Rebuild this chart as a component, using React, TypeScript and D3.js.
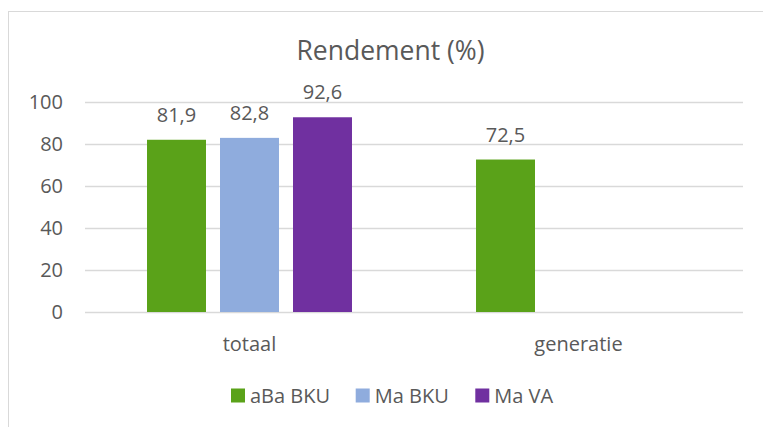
import React from "react";
import * as d3 from "d3";

const categories = ["totaal", "generatie"];
const seriesNames = ["aBa BKU", "Ma BKU", "Ma VA"];
const seriesColors = ["#5AA219", "#8FACDD", "#7030A0"];
const aBaBKU = [81.9, 72.5];
const MaBKU = [82.8, null];
const MaVA = [92.6, null];
const yTicks = [0, 20, 40, 60, 80, 100];

const seriesValues = [aBaBKU, MaBKU, MaVA];

const width = 763;
const height = 427;
const margin = { top: 101.7, right: 20, bottom: 115, left: 85 };
const font = "'Open Sans', 'Noto Sans', sans-serif";
const textColor = "#595959";

export default function App() {
  const x0 = d3
    .scaleBand<string>()
    .domain(categories)
    .range([margin.left, 743]);

  const groupW = x0.bandwidth() * 0.623;
  const x1 = d3
    .scaleBand<string>()
    .domain(seriesNames)
    .range([(x0.bandwidth() - groupW) / 2, (x0.bandwidth() + groupW) / 2])
    .paddingInner(0.192);

  const y = d3.scaleLinear().domain([0, 100]).range([312, margin.top]);

  const fmt = (v: number) => v.toFixed(1).replace(".", ",");

  // legend layout
  const legendX = [231, 355.7, 475.3];

  return (
    <svg
      width={width}
      height={height}
      style={{ position: "absolute", left: 0, top: 0, fontFamily: font }}
    >
      <rect x={0} y={0} width={width} height={height} fill="#fff" />
      <rect
        x={8.5}
        y={11.5}
        width={width + 20}
        height={height + 20}
        fill="none"
        stroke="#d9d9d9"
        strokeWidth={1}
      />
      <text
        x={390.5}
        y={60}
        textAnchor="middle"
        fontSize={26.5}
        fill={textColor}
      >
        Rendement (%)
      </text>

      {yTicks.map((t) => (
        <g key={t}>
          <line
            x1={margin.left}
            x2={743}
            y1={Math.round(y(t)) + 0.5}
            y2={Math.round(y(t)) + 0.5}
            stroke="#d9d9d9"
            strokeWidth={1.3}
          />
          <text
            x={63}
            y={y(t)}
            dy="0.35em"
            textAnchor="end"
            fontSize={20}
            fill={textColor}
          >
            {t}
          </text>
        </g>
      ))}

      {categories.map((c, ci) => (
        <g key={c} transform={`translate(${x0(c)},0)`}>
          {seriesNames.map((s, si) => {
            const v = seriesValues[si][ci];
            if (v == null) return null;
            const bx = x1(s) as number;
            return (
              <g key={s}>
                <rect
                  x={bx}
                  y={y(v)}
                  width={x1.bandwidth()}
                  height={y(0) - y(v)}
                  fill={seriesColors[si]}
                />
                <text
                  x={bx + x1.bandwidth() / 2}
                  y={y(v) - 18}
                  textAnchor="middle"
                  fontSize={20}
                  fill={textColor}
                >
                  {fmt(v)}
                </text>
              </g>
            );
          })}
          <text
            x={x0.bandwidth() / 2}
            y={351}
            textAnchor="middle"
            fontSize={20}
            fill={textColor}
          >
            {c}
          </text>
        </g>
      ))}

      {seriesNames.map((s, i) => (
        <g key={s}>
          <rect
            x={legendX[i]}
            y={388.5}
            width={14}
            height={14}
            fill={seriesColors[i]}
          />
          <text
            x={legendX[i] + 19}
            y={396}
            dy="0.35em"
            fontSize={20}
            fill={textColor}
          >
            {s}
          </text>
        </g>
      ))}
    </svg>
  );
}
